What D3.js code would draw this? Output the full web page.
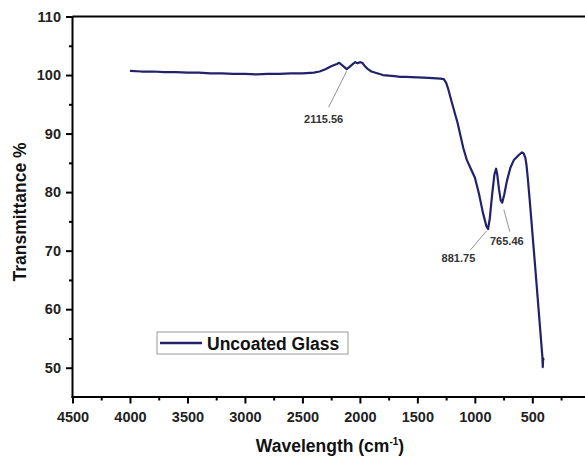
<!DOCTYPE html>
<html>
<head>
<meta charset="utf-8">
<script src="https://cdn.jsdelivr.net/npm/d3@7"></script>
<style>
  body { margin: 0; background: #fff; }
  svg { display: block; overflow: hidden; }
  text { font-family: "Liberation Sans", Arial, sans-serif; }
</style>
</head>
<body>
<div id="chart"></div>
<script>
// FTIR spectrum
const wavenumber = [4000, 3900, 3800, 3700, 3600, 3500, 3400, 3300, 3200, 3100, 3000, 2900, 2800, 2700, 2600, 2500, 2400, 2350, 2300, 2250, 2200, 2180, 2150, 2115, 2090, 2060, 2040, 2020, 2000, 1980, 1960, 1930, 1900, 1850, 1800, 1750, 1700, 1650, 1600, 1500, 1400, 1300, 1270, 1250, 1230, 1200, 1150, 1100, 1070, 1040, 1000, 965, 930, 900, 885, 870, 850, 830, 815, 805, 790, 775, 762, 745, 720, 690, 660, 620, 590, 575, 560, 550, 540, 520, 500, 480, 460, 440, 420, 413, 409, 406, 402];
const transmittance = [100.7, 100.6, 100.6, 100.5, 100.5, 100.4, 100.4, 100.3, 100.3, 100.2, 100.2, 100.1, 100.2, 100.2, 100.3, 100.3, 100.4, 100.6, 101.0, 101.5, 101.9, 102.1, 101.6, 101.0, 101.4, 101.9, 102.2, 102.0, 102.2, 102.1, 101.6, 101.0, 100.6, 100.3, 100.0, 99.9, 99.8, 99.7, 99.7, 99.6, 99.5, 99.4, 99.3, 98.7, 97.5, 95.3, 91.8, 87.5, 85.5, 84.2, 82.5, 79.8, 76.5, 74.2, 73.7, 75.5, 79.5, 83.0, 84.0, 83.0, 80.5, 78.6, 78.2, 79.5, 82.0, 84.2, 85.5, 86.3, 86.8, 86.6, 85.8, 84.5, 82.5, 78.0, 73.2, 68.4, 63.5, 58.6, 53.7, 52.0, 50.1, 51.6, 51.3];

const xTicks = [4500, 4000, 3500, 3000, 2500, 2000, 1500, 1000, 500];
const yTicks = [50, 60, 70, 80, 90, 100, 110];
const peakWave = [2115.56, 881.75, 765.46];
const peakValue = [101.0, 73.7, 78.2];
const seriesName = 'Uncoated Glass';

const W = 585, H = 457;
const mLeft = 72.5, mTop = 16.5, mRight = 589.8, mBottom = 397;
const lineColor = '#22226c';

const svg = d3.select('#chart').append('svg')
  .attr('width', W).attr('height', H);

const x = d3.scaleLinear().domain([4500, 0]).range([mLeft, mRight]);
const y = d3.scaleLinear().domain([45, 110]).range([mBottom, mTop]);

// top frame line
svg.append('line')
  .attr('x1', mLeft).attr('x2', W)
  .attr('y1', y(110)).attr('y2', y(110))
  .attr('stroke', '#000').attr('stroke-width', 2);

// minor ticks
const xMinor = d3.range(4250, 0, -500);
const yMinor = d3.range(55, 110, 10);

const gx = svg.append('g').attr('transform', `translate(0,${mBottom})`);
gx.call(d3.axisBottom(x).tickValues(xMinor).tickSize(3.5).tickFormat(''));
const gx2 = svg.append('g').attr('transform', `translate(0,${mBottom})`);
gx2.call(d3.axisBottom(x).tickValues(xTicks).tickSize(6.5).tickPadding(8).tickFormat(d3.format('d')));
svg.selectAll('.domain').remove();
gx2.append('line').attr('x1', mLeft - 1).attr('x2', W).attr('stroke', '#000').attr('stroke-width', 2);

const gy = svg.append('g').attr('transform', `translate(${mLeft},0)`);
gy.call(d3.axisLeft(y).tickValues(yMinor).tickSize(3.5).tickFormat(''));
const gy2 = svg.append('g').attr('transform', `translate(${mLeft},0)`);
gy2.call(d3.axisLeft(y).tickValues(yTicks).tickSize(6.5).tickPadding(5).tickFormat(d3.format('d')));
svg.selectAll('.domain').remove();
gy2.append('line').attr('y1', mTop).attr('y2', mBottom + 1).attr('stroke', '#000').attr('stroke-width', 2);

svg.selectAll('.tick line').attr('stroke', '#000').attr('stroke-width', 2);
svg.selectAll('.tick text')
  .attr('fill', '#222')
  .style('font-size', '14.5px')
  .style('font-weight', 'bold');

// spectrum
const pts = wavenumber.map((w, i) => [w, transmittance[i]]);
svg.append('path')
  .datum(pts)
  .attr('fill', 'none')
  .attr('stroke', lineColor)
  .attr('stroke-width', 2.2)
  .attr('stroke-linejoin', 'round')
  .attr('d', d3.line().x(d => x(d[0])).y(d => y(d[1])));

// peak labels
const leadFrom = [[0, 2], [-2, 2], [2, 7]];
const leadTo = [[-18, 38], [-18, 21], [8, 29]];
const labelAt = [[-23, 54], [-30, 33], [5, 42]];
peakWave.forEach((w, i) => {
  const px = x(w), py = y(peakValue[i]);
  svg.append('line')
    .attr('x1', px + leadFrom[i][0]).attr('y1', py + leadFrom[i][1])
    .attr('x2', px + leadTo[i][0]).attr('y2', py + leadTo[i][1])
    .attr('stroke', '#777').attr('stroke-width', 0.8);
  svg.append('text')
    .attr('x', px + labelAt[i][0]).attr('y', py + labelAt[i][1])
    .attr('text-anchor', 'middle')
    .attr('fill', '#333')
    .style('font-size', '11px')
    .style('font-weight', 'bold')
    .text(w.toFixed(2));
});

// legend
const lg = svg.append('g').attr('transform', 'translate(157,332)');
lg.append('rect').attr('width', 191).attr('height', 22)
  .attr('fill', '#fff').attr('stroke', '#999').attr('stroke-width', 1);
lg.append('line').attr('x1', 3).attr('x2', 45).attr('y1', 11).attr('y2', 11)
  .attr('stroke', lineColor).attr('stroke-width', 2.5);
lg.append('text').attr('x', 50).attr('y', 17.5)
  .attr('fill', '#111')
  .style('font-size', '17.5px').style('font-weight', 'bold')
  .text(seriesName);

// axis titles
const xt = svg.append('text')
  .attr('x', 330).attr('y', 452)
  .attr('text-anchor', 'middle')
  .attr('fill', '#111')
  .style('font-size', '17.5px').style('font-weight', 'bold');
xt.append('tspan').text('Wavelength (cm');
xt.append('tspan').attr('dy', -7).style('font-size', '10px').text('-1');
xt.append('tspan').attr('dy', 7).text(')');

svg.append('text')
  .attr('transform', 'translate(26,212) rotate(-90)')
  .attr('text-anchor', 'middle')
  .attr('fill', '#111')
  .style('font-size', '17.5px').style('font-weight', 'bold')
  .text('Transmittance %');
</script>
</body>
</html>
